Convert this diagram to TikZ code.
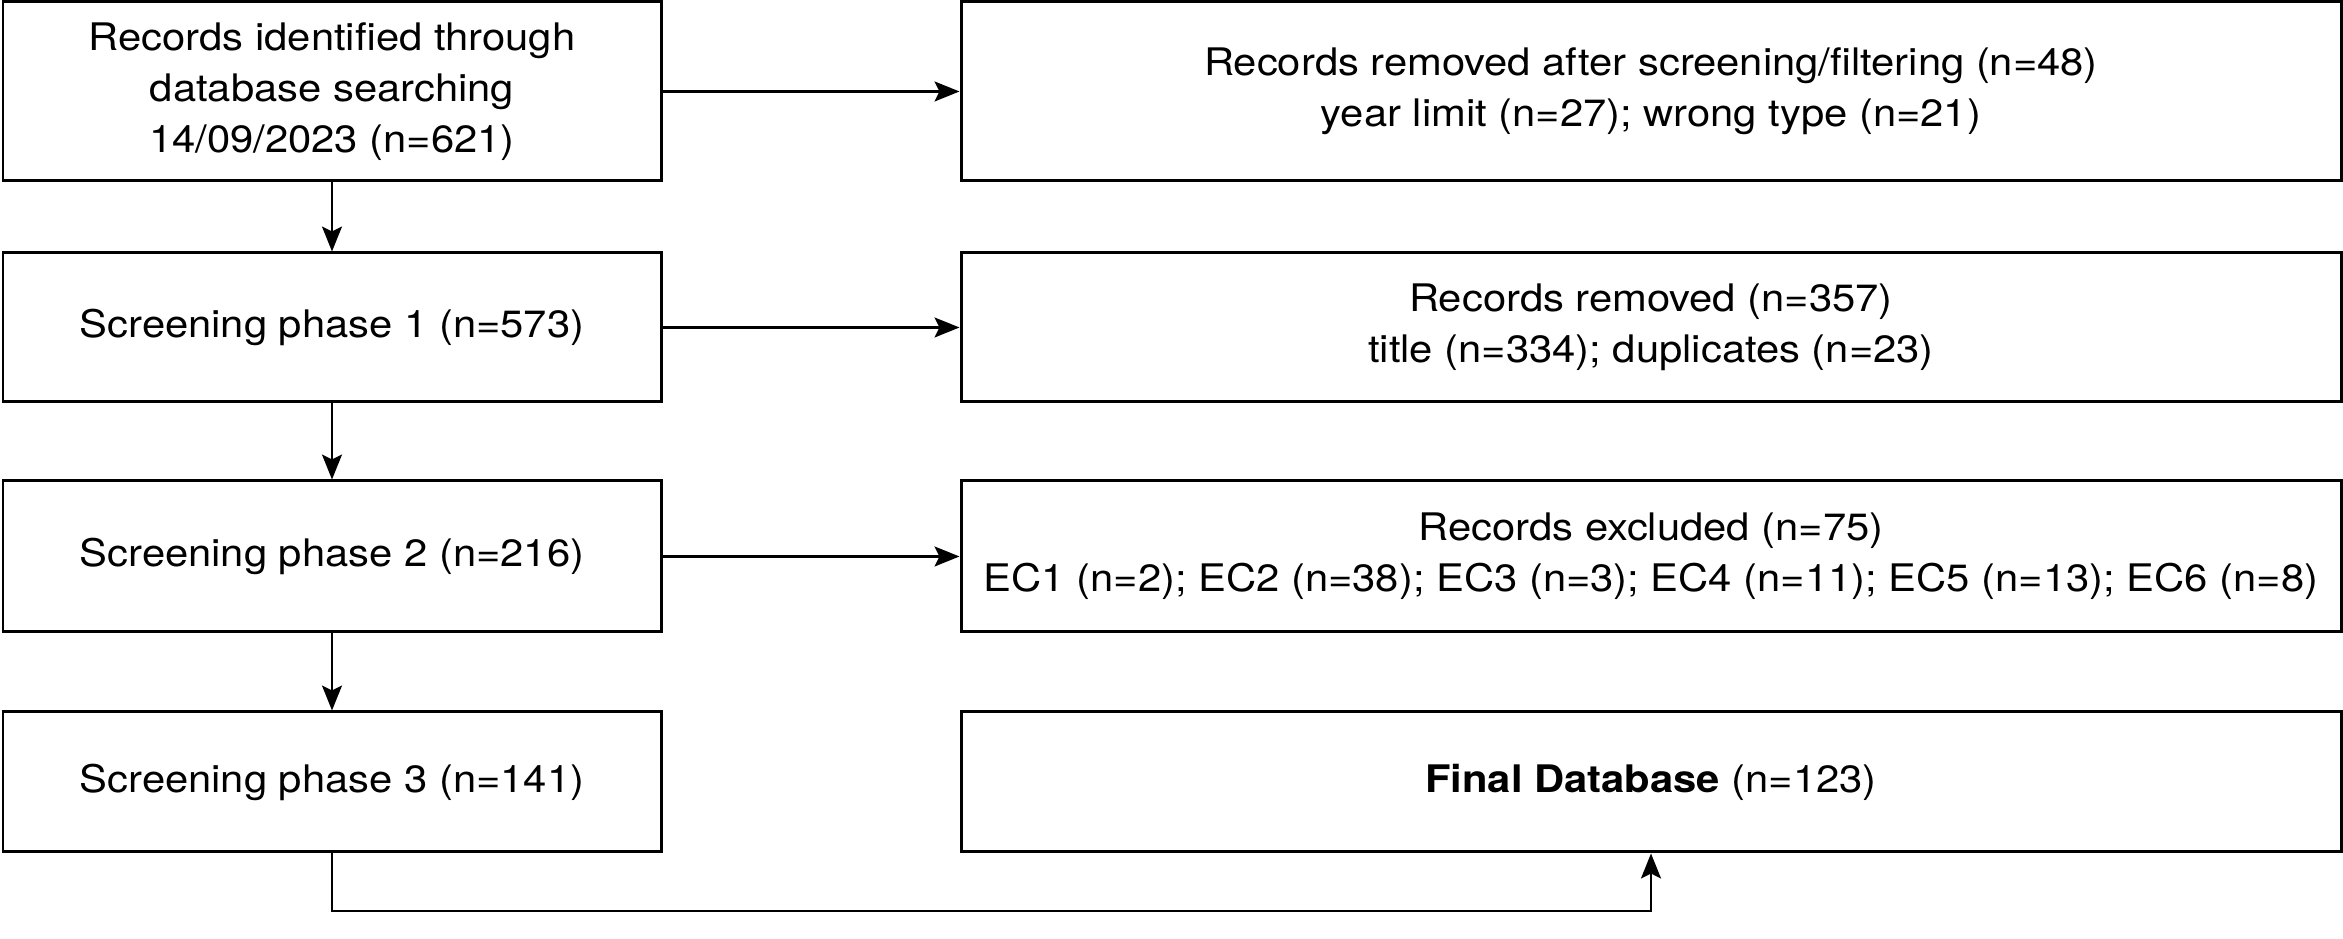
\documentclass[tikz,border=0pt]{standalone}
\usepackage{fontspec}
\setmainfont{TeX Gyre Heros}[FakeStretch=1.1]
\usetikzlibrary{arrows.meta}

\tikzset{
    recbox/.style={draw, line width=0.85pt, rectangle, align=center, inner sep=0pt,
        font=\fontsize{10.8}{14.6}\selectfont},
    leftbox/.style={recbox, minimum width=6.58cm},
    rightbox/.style={recbox, minimum width=13.80cm},
    flow/.style={line width=0.6pt, -{Stealth[length=0.25cm, width=0.2cm, inset=0.05cm]}}
}

\begin{document}
\begin{tikzpicture}
    \useasboundingbox (0,0) rectangle (23.43,9.39);
    % left column
    \node[leftbox, minimum height=1.79cm] (ident) at (3.32,8.475)
        {Records identified through\\database searching\\14/09/2023 (n=621)};
    \node[leftbox, minimum height=1.49cm] (phaseA) at (3.32,6.115) {Screening phase 1 (n=573)};
    \node[leftbox, minimum height=1.51cm] (phaseB) at (3.32,3.825) {Screening phase 2 (n=216)};
    \node[leftbox, minimum height=1.40cm] (phaseC) at (3.32,1.57) {Screening phase 3 (n=141)};
    % right column
    \node[rightbox, minimum height=1.79cm] (removedA) at (16.51,8.475)
        {Records removed after screening/filtering (n=48)\\year limit (n=27); wrong type (n=21)};
    \node[rightbox, minimum height=1.49cm] (removedB) at (16.51,6.115)
        {Records removed (n=357)\\title (n=334); duplicates (n=23)};
    \node[rightbox, minimum height=1.51cm] (excluded) at (16.51,3.825)
        {Records excluded (n=75)\\EC1 (n=2); EC2 (n=38); EC3 (n=3); EC4 (n=11); EC5 (n=13); EC6 (n=8)};
    \node[rightbox, minimum height=1.40cm] (final) at (16.51,1.57)
        {\textbf{Final Database} (n=123)};
    % connectors
    \draw[flow] (ident) -- (phaseA);
    \draw[flow] (phaseA) -- (phaseB);
    \draw[flow] (phaseB) -- (phaseC);
    \draw[flow] (ident) -- (removedA);
    \draw[flow] (phaseA) -- (removedB);
    \draw[flow] (phaseB) -- (excluded);
    \coordinate (turn) at (3.32,0.28);
    \draw[flow] (phaseC.south) -- (turn) -| (final.south);
\end{tikzpicture}
\end{document}
